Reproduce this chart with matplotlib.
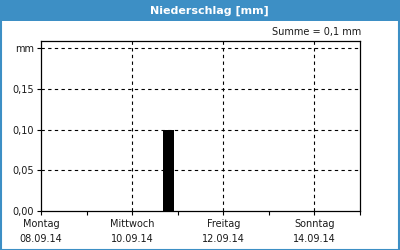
import matplotlib
matplotlib.use("Agg")
import matplotlib.pyplot as plt
from matplotlib.patches import Rectangle
from matplotlib.ticker import FixedLocator, MultipleLocator

# Data
days = ["Montag", "Mittwoch", "Freitag", "Sonntag"]
dates = ["08.09.14", "10.09.14", "12.09.14", "14.09.14"]
day_positions = [0, 2, 4, 6]          # days since 08.09.14 00:00
bar_times = [2.8]                      # days since 08.09.14 00:00
bar_values = [0.10]                    # mm
bar_width = 0.24
y_ticks = [0.00, 0.05, 0.10, 0.15, 0.20]
y_labels = ["0,00", "0,05", "0,10", "0,15", "mm"]
title = "Niederschlag [mm]"
summe = "Summe = 0,1 mm"

blue = "#3d8fc5"
txt = "#1a1a1a"

fig = plt.figure(figsize=(4, 2.5), dpi=100)
fig.patch.set_facecolor("white")

# title bar and border
fig.add_artist(Rectangle((0, 1 - 21/250), 1, 21/250, transform=fig.transFigure,
                         facecolor=blue, edgecolor="none", zorder=0))
fig.add_artist(Rectangle((0.5/400, 0.5/250), 1 - 1.5/400, 1 - 1.5/250, transform=fig.transFigure,
                         facecolor="none", edgecolor=blue, linewidth=1.5, zorder=5))
fig.text(0.5225, 1 - 10.5/250, title, color="white", fontsize=8, fontweight="bold",
         ha="center", va="center", family="DejaVu Sans")

ax = fig.add_axes([41/400, 1 - 211/250, (360 - 41)/400, (211 - 41)/250])
ax.bar(bar_times, bar_values, width=bar_width, color="black", zorder=3)

ax.set_xlim(0, 7)
ax.set_ylim(0, 0.2088)

ax.xaxis.set_major_locator(FixedLocator(day_positions))
ax.set_xticklabels([f"{d}\n{dt}" for d, dt in zip(days, dates)], fontsize=7, color=txt,
                   linespacing=1.6)
ax.xaxis.set_minor_locator(MultipleLocator(1))
ax.tick_params(axis="x", which="both", direction="out", length=3, width=0.8, pad=3)

ax.set_yticks(y_ticks)
ax.set_yticklabels(y_labels, fontsize=7, color=txt)
ax.tick_params(axis="y", direction="out", length=3, width=0.8, pad=2)

for v in y_ticks[1:]:
    ax.axhline(v, color="black", linestyle=(0, (3, 3)), linewidth=0.8, zorder=1)
for x in day_positions[1:]:
    ax.axvline(x, color="black", linestyle=(0, (3, 3)), linewidth=0.8, zorder=1)

for s in ax.spines.values():
    s.set_linewidth(0.9)
    s.set_color("black")

fig.text(361/400, 1 - 32/250, summe, fontsize=7, color=txt, ha="right", va="center")

fig.savefig("out.png", dpi=100)
